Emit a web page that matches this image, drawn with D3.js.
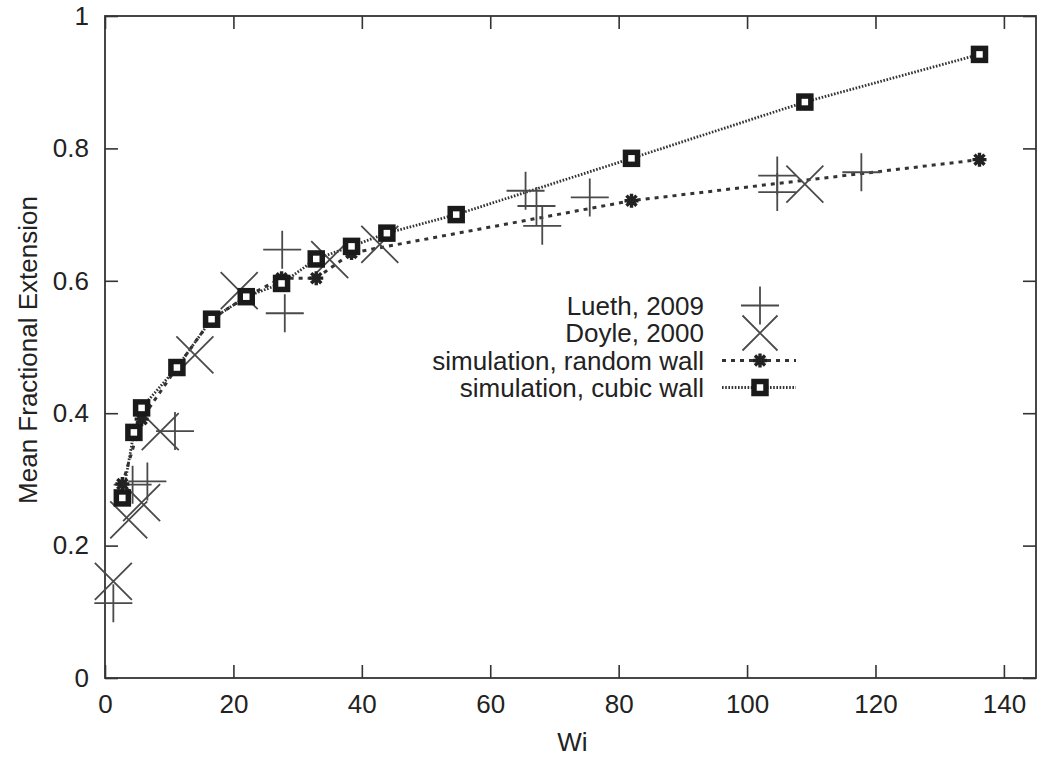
<!DOCTYPE html>
<html lang="en">
<head>
<meta charset="utf-8">
<title>Mean Fractional Extension vs Wi</title>
<script src="https://cdn.jsdelivr.net/npm/d3@7"></script>
<style>
  body { margin: 0; background: #fff; }
  text { font-family: "Liberation Sans", Arial, sans-serif; fill: #222; }
</style>
</head>
<body>
<script>
// Lueth, 2009 (plus markers)
var luethWi  = [1.3, 4.3, 6.6, 10.9, 27.6, 28.0, 65.5, 67.2, 68.1, 75.5, 104.7, 104.7, 117.8];
var luethExt = [0.113, 0.292, 0.297, 0.373, 0.647, 0.551, 0.736, 0.713, 0.683, 0.726, 0.759, 0.734, 0.764];

// Doyle, 2000 (x markers)
var doyleWi  = [1.3, 3.7, 5.7, 8.6, 14.0, 20.9, 35.0, 42.8, 109.0];
var doyleExt = [0.146, 0.239, 0.265, 0.372, 0.488, 0.585, 0.632, 0.655, 0.746];

// simulation, random wall
var randomWi  = [2.7, 5.7, 11.2, 16.6, 22.0, 27.5, 32.9, 38.4, 82.0, 136.2];
var randomExt = [0.293, 0.391, 0.469, 0.542, 0.576, 0.604, 0.604, 0.642, 0.721, 0.783];

// simulation, cubic wall
var cubicWi  = [2.7, 4.5, 5.7, 11.2, 16.6, 22.0, 27.5, 32.9, 38.4, 43.9, 54.7, 82.0, 109.0, 136.2];
var cubicExt = [0.272, 0.371, 0.408, 0.469, 0.542, 0.576, 0.596, 0.633, 0.652, 0.672, 0.700, 0.785, 0.870, 0.942];

var xTicks = [0, 20, 40, 60, 80, 100, 120, 140];
var yTicks = [0, 0.2, 0.4, 0.6, 0.8, 1];
var yTickLabels = ["0", "0.2", "0.4", "0.6", "0.8", "1"];
var legendNames = ["Lueth, 2009", "Doyle, 2000", "simulation, random wall", "simulation, cubic wall"];

var width = 1051, height = 758;
var margin = {top: 16, right: 15, bottom: 80, left: 105};
var w = width - margin.left - margin.right;
var h = height - margin.top - margin.bottom;

var svg = d3.select("body").append("svg")
    .attr("width", width)
    .attr("height", height);

var g = svg.append("g")
    .attr("transform", "translate(" + margin.left + "," + margin.top + ")");

var x = d3.scaleLinear().domain([0, 145]).range([0, w]);
var y = d3.scaleLinear().domain([0, 1]).range([h, 0]);

var axisColor = "#333";
var markColor = "#4a4a4a";

// axes, ticks pointing inward, mirrored on top/right
var fontSize = 26;
g.append("g").attr("transform", "translate(0," + h + ")")
    .call(d3.axisBottom(x).tickValues(xTicks).tickSizeInner(-13).tickSizeOuter(0).tickPadding(17));
g.append("g")
    .call(d3.axisTop(x).tickValues(xTicks).tickSizeInner(-13).tickSizeOuter(0).tickFormat(""));
g.append("g")
    .call(d3.axisLeft(y).tickValues(yTicks).tickSizeInner(-13).tickSizeOuter(0).tickPadding(16)
        .tickFormat(function(d, i) { return yTickLabels[i]; }));
g.append("g").attr("transform", "translate(" + w + ",0)")
    .call(d3.axisRight(y).tickValues(yTicks).tickSizeInner(-13).tickSizeOuter(0).tickFormat(""));

g.selectAll(".domain").remove();
g.selectAll(".tick line").attr("stroke", axisColor).attr("stroke-width", 1.6);
g.selectAll(".tick text").attr("font-size", fontSize).attr("fill", "#222")
    .style("font-family", "'Liberation Sans', Arial, sans-serif");

g.append("rect")
    .attr("width", w).attr("height", h)
    .attr("fill", "none").attr("stroke", axisColor).attr("stroke-width", 1.8);

// axis titles
svg.append("text")
    .attr("x", margin.left + w / 2 + 2)
    .attr("y", 751)
    .attr("text-anchor", "middle")
    .attr("font-size", fontSize)
    .text("Wi");

svg.append("text")
    .attr("transform", "translate(37," + (margin.top + h / 2 + 3) + ") rotate(-90)")
    .attr("text-anchor", "middle")
    .attr("font-size", fontSize)
    .text("Mean Fractional Extension");

// marker shapes
function plusPath(s) { return "M" + (-s) + ",0H" + s + "M0," + (-s) + "V" + s; }
function crossPath(s) { return "M" + (-s) + "," + (-s) + "L" + s + "," + s + "M" + (-s) + "," + s + "L" + s + "," + (-s); }
function starPath(s) {
  var d = s * 0.72;
  return plusPath(s) + crossPath(d);
}

var line = d3.line()
    .x(function(d) { return x(d[0]); })
    .y(function(d) { return y(d[1]); });

var randomPts = d3.zip(randomWi, randomExt);
var cubicPts = d3.zip(cubicWi, cubicExt);

// series lines
g.append("path").datum(randomPts)
    .attr("d", line)
    .attr("fill", "none")
    .attr("stroke", "#333")
    .attr("stroke-width", 3)
    .attr("stroke-dasharray", "4,5");

g.append("path").datum(cubicPts)
    .attr("d", line)
    .attr("fill", "none")
    .attr("stroke", "#333")
    .attr("stroke-width", 2.8)
    .attr("stroke-dasharray", "1.6,1.6");

// experimental points
g.selectAll(".lueth").data(d3.zip(luethWi, luethExt)).enter()
    .append("path").attr("class", "lueth")
    .attr("transform", function(d) { return "translate(" + x(d[0]) + "," + y(d[1]) + ")"; })
    .attr("d", plusPath(19))
    .attr("fill", "none").attr("stroke", markColor).attr("stroke-width", 1.8);

g.selectAll(".doyle").data(d3.zip(doyleWi, doyleExt)).enter()
    .append("path").attr("class", "doyle")
    .attr("transform", function(d) { return "translate(" + x(d[0]) + "," + y(d[1]) + ")"; })
    .attr("d", crossPath(18.5))
    .attr("fill", "none").attr("stroke", markColor).attr("stroke-width", 1.8);

// simulation points
g.selectAll(".rnd").data(randomPts).enter()
    .append("path").attr("class", "rnd")
    .attr("transform", function(d) { return "translate(" + x(d[0]) + "," + y(d[1]) + ")"; })
    .attr("d", starPath(7))
    .attr("fill", "none").attr("stroke", "#222").attr("stroke-width", 3.4);

g.selectAll(".cub").data(cubicPts).enter()
    .append("rect").attr("class", "cub")
    .attr("x", function(d) { return x(d[0]) - 6; })
    .attr("y", function(d) { return y(d[1]) - 6; })
    .attr("width", 12).attr("height", 12)
    .attr("fill", "#fff").attr("stroke", "#1a1a1a").attr("stroke-width", 5.5);

// legend
var legend = svg.append("g");
var legY = [305.5, 333, 360.5, 387.5];
var legTextX = 704, legX0 = 722, legX1 = 796, legMid = 760;

legend.selectAll("text").data(legendNames).enter()
    .append("text")
    .attr("x", legTextX)
    .attr("y", function(d, i) { return legY[i] + 9; })
    .attr("text-anchor", "end")
    .attr("font-size", fontSize)
    .text(function(d) { return d; });

legend.append("path")
    .attr("transform", "translate(" + legMid + "," + legY[0] + ")")
    .attr("d", plusPath(19))
    .attr("fill", "none").attr("stroke", markColor).attr("stroke-width", 1.8);
legend.append("path")
    .attr("transform", "translate(" + legMid + "," + legY[1] + ")")
    .attr("d", crossPath(17.5))
    .attr("fill", "none").attr("stroke", markColor).attr("stroke-width", 1.8);

legend.append("line")
    .attr("x1", legX0).attr("x2", legX1).attr("y1", legY[2]).attr("y2", legY[2])
    .attr("stroke", "#333").attr("stroke-width", 3).attr("stroke-dasharray", "4,5");
legend.append("path")
    .attr("transform", "translate(" + legMid + "," + legY[2] + ")")
    .attr("d", starPath(7))
    .attr("fill", "none").attr("stroke", "#222").attr("stroke-width", 3.4);

legend.append("line")
    .attr("x1", legX0).attr("x2", legX1).attr("y1", legY[3]).attr("y2", legY[3])
    .attr("stroke", "#333").attr("stroke-width", 2.8).attr("stroke-dasharray", "1.6,1.6");
legend.append("rect")
    .attr("x", legMid - 6).attr("y", legY[3] - 6)
    .attr("width", 12).attr("height", 12)
    .attr("fill", "#fff").attr("stroke", "#1a1a1a").attr("stroke-width", 5.5);
</script>
</body>
</html>
